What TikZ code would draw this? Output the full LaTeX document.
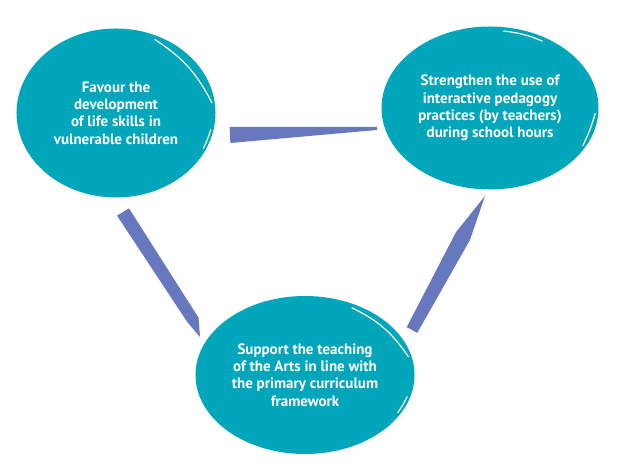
\documentclass[tikz,border=0pt]{standalone}
\usepackage{fontspec}
\setmainfont{PT Sans}
\usetikzlibrary{shapes.geometric,positioning,calc}
\definecolor{blobteal}{HTML}{02A6BB}
\definecolor{brushblue}{HTML}{6878BE}

\begin{document}
\begin{tikzpicture}[
    x=1bp,y=1bp,
    blob/.style={ellipse,fill=blobteal,inner sep=0pt,align=center,text=white,font=\fontsize{15bp}{17.3bp}\selectfont\bfseries},
    brush/.style={fill=brushblue},
    gloss/.style={white,line width=1.2bp,line cap=round}
]
    \useasboundingbox (0,0) rectangle (618,466);

    \node[blob,minimum width=199bp,minimum height=169bp] (fav) at (116,353) {Favour the\\development\\of life skills in\\vulnerable children};
    \node[blob,minimum width=217bp,minimum height=163bp] (str) at (490,358) {Strengthen the use of\\interactive pedagogy\\practices (by teachers)\\during school hours};
    \node[blob,minimum width=219bp,minimum height=158bp] (sup) at (305,91) {Support the teaching\\of the Arts in line with\\the primary curriculum\\framework};

    % white highlights on the blob edges
    \draw[gloss] ($(fav.center)!0.95!(fav.62)$) to[bend left=15] ($(fav.center)!0.97!(fav.6)$);
    \draw[gloss] ($(fav.center)!0.97!(fav.-10)$) to[bend left=5] ($(fav.center)!0.97!(fav.-22)$);
    \draw[gloss] ($(str.center)!0.95!(str.80)$) to[bend left=8] ($(str.center)!0.95!(str.52)$);
    \draw[gloss] ($(str.center)!0.97!(str.-3)$) to[bend left=5] ($(str.center)!0.97!(str.-22)$);
    \draw[gloss] ($(sup.center)!0.95!(sup.55)$) to[bend left=15] ($(sup.center)!0.97!(sup.10)$);
    \draw[gloss] ($(sup.center)!0.97!(sup.-12)$) to[bend left=5] ($(sup.center)!0.97!(sup.-22)$);

    % brush strokes between the aims
    \coordinate (ha) at (230,331);
    \coordinate (hb) at (377,337.5);
    \coordinate (la) at (123,254);
    \coordinate (lm) at (193,146);
    \coordinate (lb) at (200,129);
    \coordinate (ra) at (485,270);
    \coordinate (rm) at (463,230);
    \coordinate (rb) at (412,136);

    \fill[brush] ($(ha)!8bp!90:(hb)$) -- ($(hb)!1.5bp!-90:(ha)$) -- ($(hb)!1.5bp!90:(ha)$) -- ($(ha)!8bp!-90:(hb)$) -- cycle;
    \fill[brush] ($(la)!7bp!90:(lb)$) -- ($(lm)!6bp!90:(lb)$) -- (lb) -- ($(lm)!6bp!-90:(lb)$) -- ($(la)!7bp!-90:(lb)$) -- cycle;
    \fill[brush] (ra) -- ($(rm)!8bp!90:(rb)$) -- ($(rb)!6bp!-90:(rm)$) -- ($(rb)!6bp!90:(rm)$) -- ($(rm)!8bp!-90:(rb)$) -- cycle;
\end{tikzpicture}
\end{document}
